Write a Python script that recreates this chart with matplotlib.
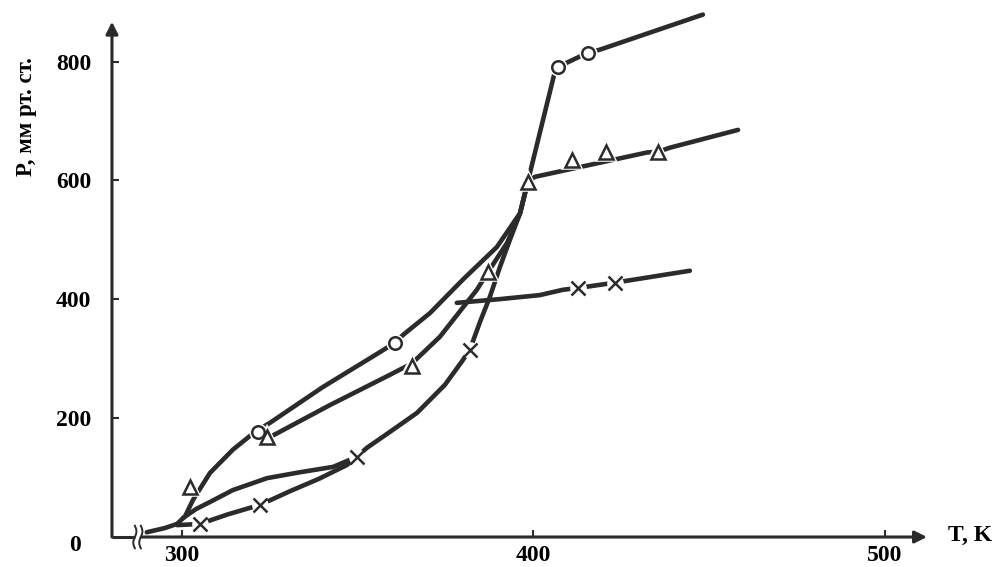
import matplotlib
matplotlib.use('Agg')
import matplotlib.pyplot as plt
import numpy as np

# values: T in K, P in mm Hg

# circle branch (rises, then the steep part and the upper flat part)
circ_T = [290.0, 295.1, 298.6, 300.9, 303.1, 308.0, 314.5, 320.8, 325.0, 340.0,
          356.3, 360.6, 362.9, 370.6, 379.9, 389.6, 396.2, 398.4, 406.1, 407.0,
          415.5, 418.9, 448.2]
circ_P = [8, 15, 22, 35, 62, 108, 147, 177, 192, 252,
          311, 327, 340, 377, 433, 488, 545, 598, 783, 791,
          815, 820, 879]

# triangle branch (leaves the circle curve near 325 K)
tri_T = [325.0, 342.1, 359.2, 365.4, 373.4, 383.9, 387.1, 392.5, 396.2, 398.4]
tri_P = [168, 222, 273, 292, 337, 416, 446, 495, 545, 598]
# triangle flat part above 400 K
tri2_T = [398.4, 400.4, 432.3, 435.4, 438.8, 458.2]
tri2_P = [598, 606, 647, 648, 655, 685]

# cross branch, steep part
x_T = [349.8, 352.6, 359.2, 366.9, 374.8, 379.6, 381.9, 384.8, 387.6, 390.5,
       393.3, 396.2, 398.4]
x_P = [135, 150, 177, 209, 256, 295, 315, 362, 404, 455,
       500, 545, 598]
# middle curve from the origin up to the cross at 350 K
mid_T = [300.3, 304.0, 308.0, 314.5, 324.2, 333.6, 343.0, 349.8]
mid_P = [32, 47, 59, 79, 99, 109, 118, 135]
# lower cross curve
low_T = [298.6, 305.1, 313.0, 322.2, 330.7, 339.0, 346.9, 349.8]
low_P = [20, 22, 38, 54, 77, 98, 121, 135]
# cross flat part
x2_T = [378.2, 390.0, 401.8, 408.4, 412.7, 423.2, 444.5]
x2_P = [394, 400, 407, 416, 419, 428, 448]

# markers
circ_mk_T = [321.6, 360.6, 407.0, 415.5]
circ_mk_P = [177, 327, 791, 815]
tri_mk_T = [302.3, 324.2, 365.4, 387.1, 398.4, 411.0, 420.6, 435.4]
tri_mk_P = [84, 168, 288, 446, 598, 635, 648, 648]
x_mk_T = [305.1, 322.2, 349.8, 381.9, 412.7, 423.2]
x_mk_P = [22, 54, 135, 315, 419, 428]

x_ticks = [300, 400, 500]
y_ticks = [200, 400, 600, 800]

ink = '#2b2b2b'
serif = ['Liberation Serif', 'DejaVu Serif']

fig = plt.figure(figsize=(9.98, 5.67), dpi=100)
ax = fig.add_axes([0.1122, 0.0529, 0.8166, 0.9224])
ax.set_xlim(280.09, 511.95)
ax.set_ylim(0, 880)
for s in ax.spines.values():
    s.set_visible(False)

# axes drawn as arrows, with the break on the T axis
ax.annotate('', xy=(280.09, 867), xytext=(280.09, 0),
            arrowprops=dict(arrowstyle='-|>', lw=2.2, color=ink,
                            mutation_scale=18, shrinkA=0, shrinkB=0))
ax.annotate('', xy=(511.95, 0), xytext=(288.4, 0),
            arrowprops=dict(arrowstyle='-|>', lw=2.2, color=ink,
                            mutation_scale=18, shrinkA=0, shrinkB=0),
            annotation_clip=False)
ax.plot([280.09, 286.5], [0, 0], color=ink, lw=2.2, clip_on=False,
        solid_capstyle='butt')
t = np.linspace(-1, 1, 25)
for x0 in (286.6, 288.3):
    ax.plot(x0 + 0.45 * np.sin(t * np.pi), 19 * t, color=ink, lw=1.4,
            clip_on=False)

lw = 3.3
for T, P in [(circ_T, circ_P), (tri_T, tri_P), (tri2_T, tri2_P), (x_T, x_P),
             (mid_T, mid_P), (low_T, low_P), (x2_T, x2_P)]:
    ax.plot(T, P, color=ink, lw=lw, solid_capstyle='round',
            solid_joinstyle='round', clip_on=False)

# white halo first so the line breaks around each marker
ax.plot(circ_mk_T, circ_mk_P, 'o', ms=9, mfc='white', mec='white', mew=4, clip_on=False)
ax.plot(tri_mk_T, tri_mk_P, '^', ms=10, mfc='white', mec='white', mew=4, clip_on=False)
ax.plot(x_mk_T, x_mk_P, 'o', ms=10, mfc='white', mec='white', mew=2, clip_on=False)

ax.plot(circ_mk_T, circ_mk_P, 'o', ms=9, mfc='white', mec=ink, mew=1.8, clip_on=False)
ax.plot(tri_mk_T, tri_mk_P, '^', ms=10, mfc='white', mec=ink, mew=1.8, clip_on=False)
ax.plot(x_mk_T, x_mk_P, 'x', ms=10, mec=ink, mew=1.8, clip_on=False)

ax.set_xticks(x_ticks)
ax.set_yticks(y_ticks)
ax.tick_params(axis='both', direction='in', length=5, width=1.5, color=ink)
ax.tick_params(axis='x', pad=6)
ax.tick_params(axis='y', pad=15)
for lab in ax.get_xticklabels() + ax.get_yticklabels():
    lab.set_fontfamily(serif)
    lab.set_fontweight('bold')
    lab.set_fontsize(17)

ax.text(269.6, -14, '0', ha='center', va='center', fontsize=17,
        fontweight='bold', family=serif, clip_on=False)
ax.text(518, 2, 'T, K', ha='left', va='center', fontsize=17,
        fontweight='bold', family=serif, clip_on=False)
fig.text(0.027, 0.794, 'P, мм рт. ст.', rotation=90, ha='center', va='center',
         fontsize=16.5, fontweight='bold', family=serif)

fig.savefig('out.png', dpi=100, facecolor='white')
